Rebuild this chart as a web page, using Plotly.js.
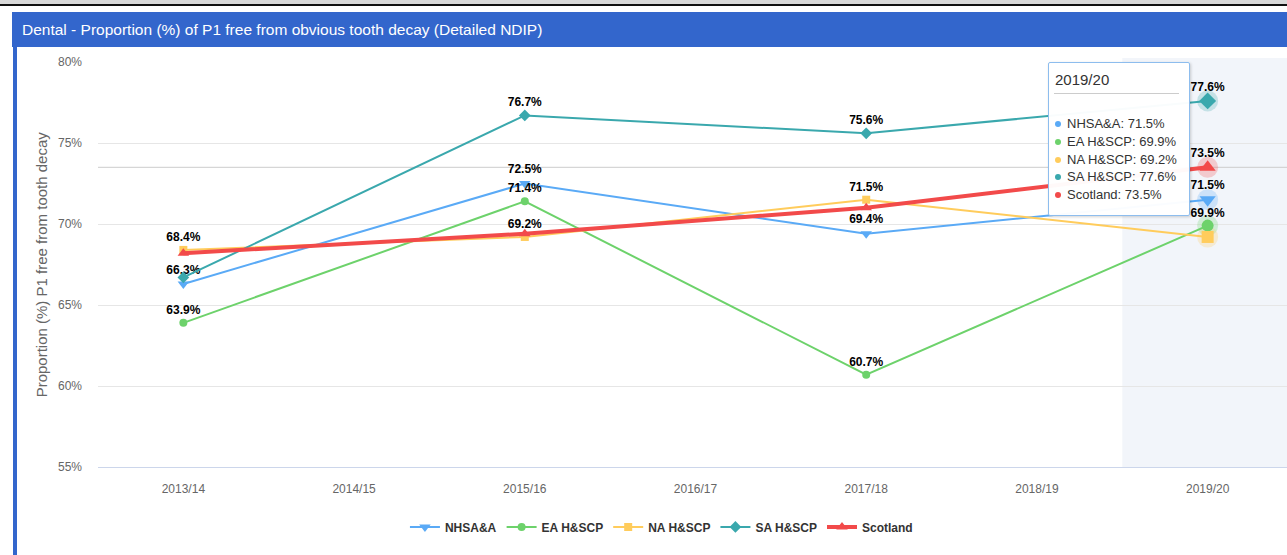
<!DOCTYPE html>
<html>
<head>
<meta charset="utf-8">
<script src="https://cdn.plot.ly/plotly-3.0.1.min.js"></script>
<style>
  html, body { margin: 0; padding: 0; width: 1287px; height: 555px; overflow: hidden; background: #fff; font-family: Arial, "Liberation Sans", sans-serif; }
  #topbar { position: absolute; left: 0; top: 0; width: 1287px; height: 4px; background: #d9d9d9; }
  #topline { position: absolute; left: 0; top: 4px; width: 1287px; height: 2px; background: #111; }
  #panel { position: absolute; left: 13px; top: 12px; width: 1300px; height: 560px; border-left: 4px solid #3366cc; }
  #header { position: absolute; left: 12px; top: 12px; width: 1300px; height: 35px; background: #3366cc; color: #fff;
            font-size: 15.5px; line-height: 35px; padding-left: 10px; box-sizing: border-box; white-space: nowrap; }
  #plot { position: absolute; left: 0; top: 0; }
  #tip { position: absolute; left: 1048px; top: 62px; width: 142px; height: 154px; box-sizing: border-box;
         background: rgba(255,255,255,0.97); border: 1px solid #8dbdee; border-radius: 2px;
         box-shadow: 1px 1px 3px rgba(0,0,0,0.18); color: #333; }
  #tip .ttl { position: absolute; left: 6px; top: 8px; font-size: 15px; line-height: 18px; }
  #tip .sep { position: absolute; left: 5px; top: 30px; width: 125px; height: 1px; background: #ccc; }
  #tip .items { position: absolute; left: 6px; top: 52px; font-size: 13px; line-height: 17.75px; white-space: nowrap; }
  #tip .dot { display: inline-block; width: 6px; height: 6px; border-radius: 3px; margin-right: 6px; vertical-align: 1px; }
</style>
</head>
<body>
<div id="topbar"></div>
<div id="topline"></div>
<div id="panel"></div>
<div id="header">Dental - Proportion (%) of P1 free from obvious tooth decay (Detailed NDIP)</div>
<div id="plot"></div>
<div id="tip"></div>
<script>
// categories on the axis, only some years have values
const categories = ["2013/14", "2014/15", "2015/16", "2016/17", "2017/18", "2018/19", "2019/20"];
const pointYears = ["2013/14", "2015/16", "2017/18", "2019/20"];
const yTicks = [55, 60, 65, 70, 75, 80];

const nhsaa    = [66.3, 72.5, 69.4, 71.5];
const eaHscp   = [63.9, 71.4, 60.7, 69.9];
const naHscp   = [68.4, 69.2, 71.5, 69.2];
const saHscp   = [66.7, 76.7, 75.6, 77.6];
const scotland = [68.2, 69.4, 71.0, 73.5];

// which data labels are visible (the others are hidden by overlap in the original)
const nhsaaLabels    = [1, 1, 1, 1];
const eaHscpLabels   = [1, 1, 1, 1];
const naHscpLabels   = [1, 1, 1, 0];
const saHscpLabels   = [0, 1, 1, 1];
const scotlandLabels = [0, 0, 0, 1];

const hoverYear = "2019/20";

const series = [
  { name: "NHSA&A",   y: nhsaa,    labels: nhsaaLabels,    color: "#5aaaf6", symbol: "triangle-down", width: 2, size: 10 },
  { name: "EA H&SCP", y: eaHscp,   labels: eaHscpLabels,   color: "#6dd26b", symbol: "circle",        width: 2, size: 8 },
  { name: "NA H&SCP", y: naHscp,   labels: naHscpLabels,   color: "#ffcc5c", symbol: "square",        width: 2, size: 8 },
  { name: "SA H&SCP", y: saHscp,   labels: saHscpLabels,   color: "#3aa8ad", symbol: "diamond",       width: 2, size: 9 },
  { name: "Scotland", y: scotland, labels: scotlandLabels, color: "#f24a4a", symbol: "triangle-up",   width: 4, size: 10 }
];

function hexToRgba(hex, a) {
  const n = parseInt(hex.slice(1), 16);
  return `rgba(${n >> 16},${(n >> 8) & 255},${n & 255},${a})`;
}

const hi = pointYears.indexOf(hoverYear);

// halo round the hovered points
const traces = series.map(s => ({
  x: [hoverYear],
  y: [s.y[hi]],
  type: "scatter",
  mode: "markers",
  marker: { size: 21, color: hexToRgba(s.color, 0.25), symbol: "circle" },
  showlegend: false,
  hoverinfo: "skip"
}));

series.forEach(s => {
  traces.push({
    x: pointYears,
    y: s.y,
    name: s.name,
    type: "scatter",
    mode: "lines+markers+text",
    line: { color: s.color, width: s.width },
    marker: { color: s.color, symbol: s.symbol, size: s.size },
    text: s.y.map((v, i) => s.labels[i] ? v.toFixed(1) + "%" : ""),
    textposition: "top center",
    textfont: { family: "Arial, Liberation Sans, sans-serif", size: 12, color: "#000", weight: "bold" },
    cliponaxis: false
  });
});

// hovered points are drawn a bit bigger
series.forEach(s => {
  traces.push({
    x: [hoverYear],
    y: [s.y[hi]],
    type: "scatter",
    mode: "markers",
    marker: { color: s.color, symbol: s.symbol, size: s.size + 4 },
    showlegend: false,
    hoverinfo: "skip"
  });
});

const layout = {
  width: 1311,
  height: 555,
  margin: { l: 98, r: 18, t: 62, b: 88 },
  paper_bgcolor: "rgba(0,0,0,0)",
  plot_bgcolor: "rgba(0,0,0,0)",
  font: { family: "Arial, Liberation Sans, sans-serif", color: "#666" },
  hovermode: false,
  xaxis: {
    type: "category",
    categoryorder: "array",
    categoryarray: categories,
    range: [-0.5, 6.5],
    showgrid: false,
    zeroline: false,
    showline: true,
    linecolor: "#ccd6eb",
    linewidth: 1,
    ticks: "",
    ticklabelstandoff: 11,
    tickfont: { size: 12, color: "#666" }
  },
  yaxis: {
    range: [55, 80],
    tickmode: "array",
    tickvals: yTicks,
    ticktext: yTicks.map(v => v + "%"),
    showgrid: true,
    gridcolor: "#e6e6e6",
    zeroline: false,
    showline: false,
    ticks: "",
    ticklabelstandoff: 15,
    tickfont: { size: 12, color: "#666" }
  },
  shapes: [
    { type: "rect", xref: "x", yref: "paper", x0: 5.5, x1: 6.5, y0: 0, y1: 1.01,
      fillcolor: "#f2f5fa", line: { width: 0 }, layer: "below" },
    { type: "line", xref: "paper", yref: "y", x0: 0, x1: 1, y0: scotland[hi], y1: scotland[hi],
      line: { color: "#cccccc", width: 1 }, layer: "below" }
  ],
  annotations: [
    { text: "Proportion (%) P1 free from tooth decay", xref: "paper", yref: "paper",
      x: -0.047, y: 0.5, xanchor: "center", yanchor: "middle", textangle: -90, showarrow: false,
      font: { size: 15, color: "#666" } }
  ],
  legend: {
    orientation: "h",
    x: 0.4715, xanchor: "center",
    y: -0.148, yanchor: "middle",
    font: { size: 12, color: "#333", weight: "bold" },
    bgcolor: "rgba(0,0,0,0)"
  }
};

Plotly.newPlot("plot", traces, layout, { displayModeBar: false, staticPlot: true });

// tooltip for the hovered year
const tip = document.getElementById("tip");
let html = `<div class="ttl">${hoverYear}</div><div class="sep"></div><div class="items">`;
series.forEach(s => {
  html += `<div><span class="dot" style="background:${s.color}"></span>${s.name.replace("&", "&amp;")}: ${s.y[hi].toFixed(1)}%</div>`;
});
html += "</div>";
tip.innerHTML = html;
</script>
</body>
</html>
